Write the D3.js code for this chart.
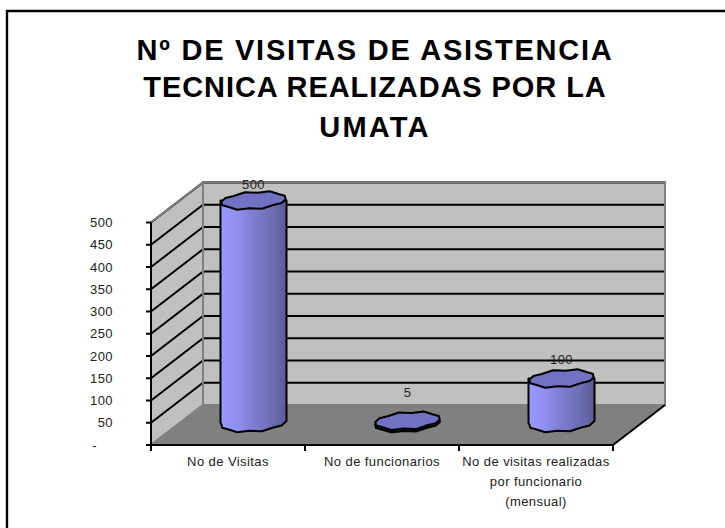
<!DOCTYPE html>
<html><head><meta charset="utf-8">
<script src="https://d3js.org/d3.v7.min.js"></script>
<style>html,body{margin:0;padding:0;background:#fff}svg{display:block}</style>
</head><body><svg id="c" width="725" height="528"></svg>
<script>
const titleLines = ["Nº DE VISITAS DE ASISTENCIA","TECNICA REALIZADAS POR LA","UMATA"];
const categories = [["No de Visitas"],["No de funcionarios"],["No de visitas realizadas","por funcionario","(mensual)"]];
const values = [500,5,100];
const valueLabels = ["500","5","100"];
const tickValues = [0,50,100,150,200,250,300,350,400,450,500];

const svg = d3.select("#c");
const font = "'Liberation Sans',Arial,sans-serif";
const txt = "#222";
const labelSize = 13, labelSpacing = .42;

svg.append("path").attr("d","M7,528V11H725").attr("fill","none").attr("stroke","#000").attr("stroke-width",2.4);

svg.append("g").selectAll("text").data(titleLines).join("text")
 .attr("x",375).attr("y",(d,i)=>[59.5,97,137][i]).attr("text-anchor","middle")
 .attr("font-family",font).attr("font-weight","bold").attr("font-size",29)
 .attr("letter-spacing",(d,i)=>[1.75,.92,2.2][i]).attr("fill","#000").text(d=>d);

const x = d3.scaleBand().domain(d3.range(categories.length)).range([151,613]);
const y = d3.scaleLinear().domain([0,500]).range([445,222.5]);
const dx = 52, dy = -40;

const X0=x.range()[0], X1=x.range()[1], Y0=y(0), Y1=y(500);
const poly=(p,fill,stroke,sw)=>svg.append("polygon").attr("points",p.map(q=>q.join(",")).join(" ")).attr("fill",fill).attr("stroke",stroke||"none").attr("stroke-width",sw||0);
poly([[X0+dx,Y1+dy],[X1+dx,Y1+dy],[X1+dx,Y0+dy],[X0+dx,Y0+dy]],"#c0c0c0","#808080",2);
poly([[X0,Y1],[X0+dx,Y1+dy],[X0+dx,Y0+dy],[X0,Y0]],"#c0c0c0","#808080",2);
poly([[X0,Y0],[X0+dx,Y0+dy],[X1+dx,Y0+dy],[X1,Y0]],"#808080","#808080",1);

const grid = svg.append("g").attr("stroke","#000").attr("stroke-width",2).attr("fill","none");
tickValues.slice(1).forEach(t=>{
  grid.append("path").attr("d",`M${X0},${y(t)}L${X0+dx},${y(t)+dy}L${X1+dx},${y(t)+dy}`);
});
svg.append("path").attr("d",`M${X0},${Y1}L${X0+dx},${Y1+dy}L${X1+dx},${Y1+dy}L${X1+dx},${Y0+dy}`).attr("fill","none").attr("stroke","#808080").attr("stroke-width",2);
svg.append("path").attr("d",`M${X0+dx},${Y1+dy}L${X0+dx},${Y0+dy}L${X0},${Y0}`).attr("fill","none").attr("stroke","#808080").attr("stroke-width",2);

const defs=svg.append("defs");
const g=defs.append("linearGradient").attr("id","cyl");
[[0,"#9a9aff"],[.25,"#8f8ff0"],[.55,"#7a7acb"],[.8,"#6c6cb0"],[1,"#5a5a96"]].forEach(s=>g.append("stop").attr("offset",s[0]).attr("stop-color",s[1]));

const rx=33, ry=8.5, floorY=423;
const wob=[0,1.1,-.9,1,-.8,1,-1,.8,-.9,1,-.8,1,-.8,1,-.9,.8];
const ring=(cx,cy)=>d3.range(16).map(i=>{
  const t=i/16*2*Math.PI;
  return [cx+(rx-.84)*Math.cos(t)+4.2*Math.sin(t), cy-(ry+wob[i])*Math.sin(t)-1.2*Math.cos(t)];
});
const line=d3.line().curve(d3.curveLinear);
const labelOff=d3.scaleLinear().domain([5,100,500]).range([-24,-14.5,-11.5]);
const cyl=svg.append("g");
values.forEach((v,i)=>{
  const cx=x(i)+x.bandwidth()/2+25.5;
  const top=floorY-(y(0)-y(v));
  const b=ring(cx,floorY), tp=ring(cx,top);
  if(v>10){
    const lowB=b.slice(8).concat([b[0]]);
    const d="M"+(cx-rx)+","+top+"L"+(cx+rx)+","+top+"L"+(cx+rx)+","+(floorY-2)+
      lowB.slice().reverse().map(p=>"L"+p.join(",")).join("")+"L"+(cx-rx)+","+floorY+"Z";
    cyl.append("path").attr("d",d).attr("fill","url(#cyl)").attr("stroke","#000").attr("stroke-width",2).attr("stroke-linejoin","round");
  } else {
    cyl.append("path").attr("d",line(b)+"Z").attr("fill","#5a5a96").attr("stroke","#000").attr("stroke-width",2.5);
  }
  cyl.append("path").attr("d",line(tp)+"Z").attr("fill","#7272c4").attr("stroke","#000").attr("stroke-width",2).attr("stroke-linejoin","round");
  svg.append("text").attr("x",cx).attr("y",top+labelOff(v)).attr("text-anchor","middle").attr("font-family",font).attr("font-size",labelSize).attr("letter-spacing",labelSpacing).attr("fill",txt).text(valueLabels[i]);
});

const axisG=svg.append("g").attr("stroke","#000").attr("stroke-width",2);
axisG.append("line").attr("x1",X0).attr("x2",X0).attr("y1",Y1).attr("y2",Y0+5);
axisG.append("line").attr("x1",X0).attr("x2",X1).attr("y1",Y0).attr("y2",Y0);
axisG.append("line").attr("x1",X1).attr("y1",Y0).attr("x2",X1+dx).attr("y2",Y0+dy);
tickValues.forEach(t=>axisG.append("line").attr("x1",X0-5).attr("x2",X0).attr("y1",y(t)).attr("y2",y(t)));
d3.range(4).forEach(i=>{const xx=X0+i*x.step();axisG.append("line").attr("x1",xx).attr("x2",xx).attr("y1",Y0).attr("y2",Y0+6);});
svg.append("g").selectAll("text").data(tickValues).join("text").attr("x",t=>t===0?97:113).attr("y",t=>y(t)+4.5)
 .attr("text-anchor","end").attr("font-family",font).attr("font-size",labelSize).attr("letter-spacing",labelSpacing).attr("fill",txt).text(t=>t===0?"-":t);
categories.forEach((c,i)=>{
  c.forEach((l,j)=>svg.append("text").attr("x",x(i)+x.bandwidth()/2).attr("y",466+j*20).attr("text-anchor","middle").attr("font-family",font).attr("font-size",labelSize).attr("letter-spacing",labelSpacing).attr("fill",txt).text(l));
});
</script></body></html>
